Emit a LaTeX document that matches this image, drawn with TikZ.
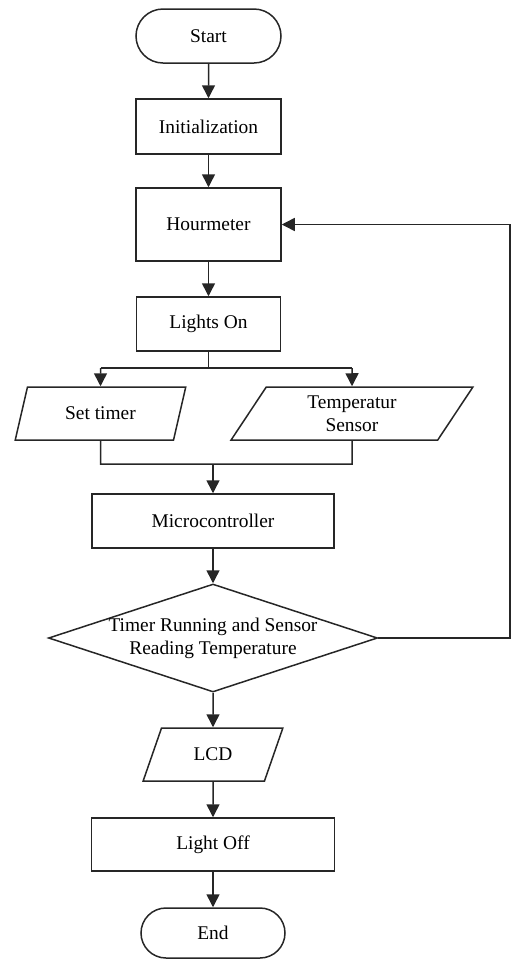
\documentclass[tikz,border=0pt]{standalone}
\usepackage{fontspec}
\setmainfont{Liberation Serif}
\usetikzlibrary{shapes.geometric,shapes.misc,arrows.meta}
\begin{document}
\begin{tikzpicture}[x=0.5pt,y=-0.5pt,
  every node/.style={font=\fontsize{9.7pt}{11.5pt}\selectfont, inner sep=0pt},
  line/.style={draw=black!85, line width=0.75pt},
  arr/.style={line, -{Triangle[width=6.5pt,length=6.5pt]}},
  term/.style={line, rounded rectangle},
  proc/.style={line, rectangle},
  io/.style={line, trapezium, trapezium stretches=true, align=center},
  dec/.style={line, diamond}
]
\useasboundingbox (0,0) rectangle (512,960);

\node[term, minimum width=72.5pt, minimum height=27pt] (start) at (208.5,36) {Start};
\node[proc, minimum width=72.5pt, minimum height=27.5pt] (init) at (208.5,126.5) {Initialization};
\node[proc, minimum width=72.5pt, minimum height=36.5pt] (hour) at (208.5,224.5) {Hourmeter};
\node[proc, minimum width=72pt, minimum height=27pt] (lights) at (208.5,324) {Lights On};
\node[io, trapezium left angle=65.6, trapezium right angle=114.4,
      minimum width=85.5pt, minimum height=26.5pt] (timer) at (100.5,413.5) {Set timer};
\node[io, trapezium left angle=63, trapezium right angle=117,
      minimum width=121pt, minimum height=26.5pt] (temp) at (352,413.5) {Temperatur\\Sensor};
\node[proc, minimum width=121pt, minimum height=27pt] (micro) at (213,521) {Microcontroller};
\node[dec, minimum width=164.5pt, minimum height=54pt] (cond) at (213,638) {};
\node[align=center] (condtext) at (cond.center) {Timer Running and Sensor\\Reading Temperature};
\node[io, trapezium left angle=62, trapezium right angle=118,
      minimum width=70pt, minimum height=26.5pt] (lcd) at (213,754.5) {LCD};
\node[proc, minimum width=121.5pt, minimum height=26.5pt] (off) at (213,844.5) {Light Off};
\node[term, minimum width=72pt, minimum height=25pt] (end) at (213,933) {End};

\coordinate (split) at (208.5,368);
\coordinate (splitL) at (100.5,368);
\coordinate (splitR) at (352,368);
\coordinate (joinL) at (100.5,464);
\coordinate (joinR) at (352,464);
\coordinate (joinM) at (213,464);
\coordinate (fb) at (510,638);

\draw[arr] (start) -- (init);
\draw[arr] (init) -- (hour);
\draw[arr] (hour) -- (lights);
\draw[line] (lights.south) -- (split);
\draw[line] (splitL) -- (splitR);
\draw[arr] (splitL) -- (timer.north);
\draw[arr] (splitR) -- (temp.north);
\draw[line] (timer.south) -- (joinL) -- (joinR) -- (temp.south);
\draw[arr] (joinM) -- (micro.north);
\draw[arr] (micro.south) -- (cond.north);
\draw[arr] (cond.south) -- (lcd.north);
\draw[arr] (lcd.south) -- (off.north);
\draw[arr] (off.south) -- (end.north);
\draw[arr] (cond.east) -- (fb) |- (hour.east);
\end{tikzpicture}
\end{document}
